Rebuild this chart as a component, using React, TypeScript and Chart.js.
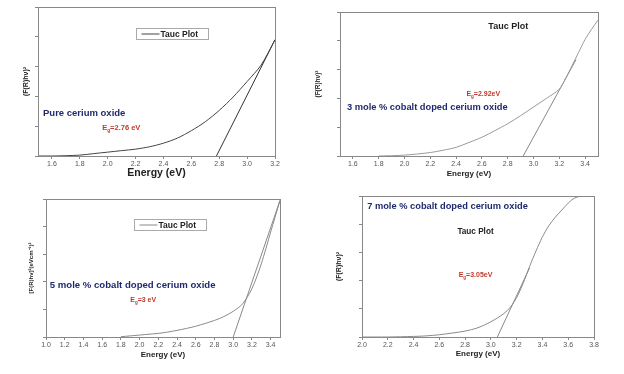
import { useEffect, useRef } from "react";
import { Chart, registerables } from "chart.js";
Chart.register(...registerables);

// ---------- data ----------
const pureX = [1.5, 1.6, 1.7, 1.8, 1.9, 2.0, 2.1, 2.2, 2.3, 2.4, 2.5, 2.6, 2.7, 2.8, 2.9, 3.0, 3.1, 3.2];
const pureY = [0.0, 0.0, 0.01, 0.03, 0.08, 0.13, 0.18, 0.23, 0.31, 0.43, 0.6, 0.85, 1.15, 1.53, 1.98, 2.5, 3.05, 3.9];
const pureTanX = [2.78, 3.2];
const pureTanY = [0, 3.9];
const pureTicks = [1.6, 1.8, 2.0, 2.2, 2.4, 2.6, 2.8, 3.0, 3.2];

const co3X = [1.8, 1.9, 2.0, 2.1, 2.2, 2.3, 2.4, 2.5, 2.6, 2.7, 2.8, 2.9, 3.0, 3.1, 3.2, 3.25, 3.3, 3.35, 3.4, 3.45, 3.5];
const co3Y = [0.0, 0.01, 0.03, 0.07, 0.12, 0.2, 0.3, 0.47, 0.65, 0.88, 1.12, 1.4, 1.7, 2.0, 2.32, 2.7, 3.15, 3.6, 4.05, 4.4, 4.72];
const co3TanX = [2.92, 3.33];
const co3TanY = [0, 3.35];
const co3Ticks = [1.6, 1.8, 2.0, 2.2, 2.4, 2.6, 2.8, 3.0, 3.2, 3.4];

const co5X = [1.8, 1.9, 2.0, 2.1, 2.2, 2.3, 2.4, 2.5, 2.6, 2.7, 2.8, 2.9, 3.0, 3.1, 3.2, 3.3, 3.4, 3.5];
const co5Y = [0.01, 0.04, 0.07, 0.1, 0.13, 0.18, 0.24, 0.31, 0.39, 0.49, 0.6, 0.74, 0.93, 1.2, 1.75, 2.65, 3.8, 4.95];
const co5TanX = [3.0, 3.5];
const co5TanY = [0, 4.95];
const co5Ticks = [1.0, 1.2, 1.4, 1.6, 1.8, 2.0, 2.2, 2.4, 2.6, 2.8, 3.0, 3.2, 3.4];

const co7X = [2.0, 2.2, 2.4, 2.5, 2.6, 2.7, 2.8, 2.9, 3.0, 3.1, 3.15, 3.2, 3.25, 3.3, 3.35, 3.4, 3.45, 3.5, 3.55, 3.6, 3.65, 3.7];
const co7Y = [0.0, 0.0, 0.02, 0.04, 0.08, 0.14, 0.21, 0.33, 0.54, 0.83, 1.05, 1.4, 1.9, 2.5, 3.05, 3.55, 3.95, 4.25, 4.5, 4.75, 4.93, 5.0];
const co7TanX = [3.05, 3.3];
const co7TanY = [0, 2.45];
const co7Ticks = [2.0, 2.2, 2.4, 2.6, 2.8, 3.0, 3.2, 3.4, 3.6, 3.8];

const yTicks = [0, 1, 2, 3, 4, 5];

const yTitleCe = "(F(R)hν)²";
const yTitle5 = "[F(R)hν]²(eVcm⁻¹)²";
const xTitle = "Energy (eV)";

const NAVY = "#1f2a6e";
const RED = "#c0392b";
const FONT = "'Liberation Sans', Arial, sans-serif";

type Note = { x: number; y: number; text: string; color: string; size: number; eg?: boolean };

type Panel = {
  L: number; T: number; R: number; B: number; W: number; H: number;
  xMin: number; xMax: number; xTicks: number[];
  cx: number[]; cy: number[]; tx: number[]; ty: number[];
  curveColor: string; tanColor: string;
  yTitle: string; yTitleSize: number; xTitleSize: number;
  notes: Note[];
  legend?: { x: number; y: number };
};

const panels: Panel[] = [
  {
    L: 38, T: 7, R: 275, B: 156, W: 16, H: 23, xMin: 1.5, xMax: 3.2, xTicks: pureTicks,
    cx: pureX, cy: pureY, tx: pureTanX, ty: pureTanY,
    curveColor: "#444", tanColor: "#333",
    yTitle: yTitleCe, yTitleSize: 7, xTitleSize: 10.5,
    notes: [
      { x: 1.536, y: 1.44, text: "Pure cerium oxide", color: NAVY, size: 9.5 },
      { x: 1.96, y: 0.94, text: "=2.76 eV", color: RED, size: 7.5, eg: true },
    ],
    legend: { x: 2.2, y: 4.3 },
  },
  {
    L: 340, T: 12, R: 598, B: 156, W: 26, H: 23, xMin: 1.5, xMax: 3.5, xTicks: co3Ticks,
    cx: co3X, cy: co3Y, tx: co3TanX, ty: co3TanY,
    curveColor: "#9a9a9a", tanColor: "#888",
    yTitle: yTitleCe, yTitleSize: 6.5, xTitleSize: 8,
    notes: [
      { x: 2.65, y: 4.51, text: "Tauc Plot", color: "#222", size: 9 },
      { x: 1.554, y: 1.67, text: "3 mole % cobalt doped cerium oxide", color: NAVY, size: 9.3 },
      { x: 2.48, y: 2.15, text: "=2.92eV", color: RED, size: 7, eg: true },
    ],
  },
  {
    L: 46, T: 199, R: 280, B: 337, W: 18, H: 23, xMin: 1.0, xMax: 3.5, xTicks: co5Ticks,
    cx: co5X, cy: co5Y, tx: co5TanX, ty: co5TanY,
    curveColor: "#8a8a8a", tanColor: "#888",
    yTitle: yTitle5, yTitleSize: 6, xTitleSize: 8,
    notes: [
      { x: 1.04, y: 1.88, text: "5 mole % cobalt doped cerium oxide", color: NAVY, size: 9.6 },
      { x: 1.9, y: 1.34, text: "=3 eV", color: RED, size: 7, eg: true },
    ],
    legend: { x: 1.945, y: 4.28 },
  },
  {
    L: 362, T: 196, R: 594, B: 337, W: 27, H: 22, xMin: 2.0, xMax: 3.8, xTicks: co7Ticks,
    cx: co7X, cy: co7Y, tx: co7TanX, ty: co7TanY,
    curveColor: "#8a8a8a", tanColor: "#888",
    yTitle: yTitleCe, yTitleSize: 7, xTitleSize: 8,
    notes: [
      { x: 2.04, y: 4.64, text: "7 mole % cobalt doped cerium oxide", color: NAVY, size: 9.3 },
      { x: 2.74, y: 3.75, text: "Tauc Plot", color: "#222", size: 8.2 },
      { x: 2.75, y: 2.18, text: "=3.05eV", color: RED, size: 7, eg: true },
    ],
  },
];

const PAD_TOP = 4;
const PAD_RIGHT = 12;

function ChartPanel({ p }: { p: Panel }) {
  const ref = useRef<HTMLCanvasElement | null>(null);
  const width = p.R - p.L + p.W + PAD_RIGHT;
  const height = PAD_TOP + p.B - p.T + p.H;

  useEffect(() => {
    if (!ref.current) return;
    const decor = {
      id: "decor",
      afterDraw(chart: any) {
        const ctx = chart.ctx as CanvasRenderingContext2D;
        const a = chart.chartArea;
        const xs = chart.scales.x;
        const ys = chart.scales.y;
        ctx.save();
        ctx.strokeStyle = "#888";
        ctx.lineWidth = 1;
        ctx.strokeRect(Math.round(a.left) + 0.5, Math.round(a.top) + 0.5, Math.round(a.right - a.left), Math.round(a.bottom - a.top));
        ctx.textBaseline = "middle";
        ctx.textAlign = "left";
        for (const n of p.notes) {
          const px = xs.getPixelForValue(n.x);
          const py = ys.getPixelForValue(n.y);
          ctx.fillStyle = n.color;
          if (n.eg) {
            ctx.font = `bold ${n.size}px ${FONT}`;
            ctx.fillText("E", px, py);
            const w1 = ctx.measureText("E").width;
            ctx.font = `bold ${n.size * 0.65}px ${FONT}`;
            ctx.fillText("g", px + w1, py + n.size * 0.35);
            const w2 = ctx.measureText("g").width;
            ctx.font = `bold ${n.size}px ${FONT}`;
            ctx.fillText(n.text, px + w1 + w2, py);
          } else {
            ctx.font = `bold ${n.size}px ${FONT}`;
            ctx.fillText(n.text, px, py);
          }
        }
        if (p.legend) {
          const lx = Math.round(xs.getPixelForValue(p.legend.x)) + 0.5;
          const ly = Math.round(ys.getPixelForValue(p.legend.y)) + 0.5;
          ctx.strokeStyle = "#aaa";
          ctx.strokeRect(lx, ly, 72, 11);
          ctx.strokeStyle = p.curveColor;
          ctx.beginPath();
          ctx.moveTo(lx + 5, ly + 5.5);
          ctx.lineTo(lx + 23, ly + 5.5);
          ctx.stroke();
          ctx.fillStyle = "#222";
          ctx.font = `bold 8.5px ${FONT}`;
          ctx.fillText("Tauc Plot", lx + 24, ly + 6);
        }
        ctx.restore();
      },
    };

    const chart = new Chart(ref.current, {
      type: "line",
      data: {
        datasets: [
          {
            data: p.cx.map((x, i) => ({ x, y: p.cy[i] })),
            borderColor: p.curveColor,
            borderWidth: 1,
            pointRadius: 0,
            tension: 0.3,
            fill: false,
          },
          {
            data: p.tx.map((x, i) => ({ x, y: p.ty[i] })),
            borderColor: p.tanColor,
            borderWidth: 1,
            pointRadius: 0,
            tension: 0,
            fill: false,
          },
        ],
      },
      options: {
        responsive: false,
        animation: false,
        devicePixelRatio: 1,
        layout: { padding: { top: PAD_TOP, right: PAD_RIGHT, left: 0, bottom: 0 } },
        plugins: { legend: { display: false }, tooltip: { enabled: false }, title: { display: false } },
        scales: {
          x: {
            type: "linear",
            min: p.xMin,
            max: p.xMax,
            afterBuildTicks: (s: any) => { s.ticks = p.xTicks.map((v) => ({ value: v })); },
            afterFit: (s: any) => { s.height = p.H; },
            ticks: {
              padding: 1,
              maxRotation: 0,
              autoSkip: false,
              color: "#555",
              font: { family: FONT, size: 7 },
              callback: (v: any) => Number(v).toFixed(1),
            },
            grid: { drawOnChartArea: false, drawTicks: true, tickLength: 3, color: "#888" },
            border: { display: true, color: "#888" },
            title: {
              display: true,
              text: xTitle,
              color: "#222",
              padding: 0,
              font: { family: FONT, size: p.xTitleSize, weight: "bold" },
            },
          },
          y: {
            type: "linear",
            min: 0,
            max: 5,
            afterBuildTicks: (s: any) => { s.ticks = yTicks.map((v) => ({ value: v })); },
            afterFit: (s: any) => { s.width = p.W; },
            ticks: { display: false },
            grid: { drawOnChartArea: false, drawTicks: true, tickLength: 3, color: "#888" },
            border: { display: true, color: "#888" },
            title: {
              display: true,
              text: p.yTitle,
              color: "#222",
              padding: 0,
              font: { family: FONT, size: p.yTitleSize, weight: "bold" },
            },
          },
        },
      },
      plugins: [decor],
    } as any);
    return () => chart.destroy();
  }, [p]);

  return (
    <canvas
      ref={ref}
      width={width}
      height={height}
      style={{ position: "absolute", left: p.L - p.W, top: p.T - PAD_TOP, width, height }}
    />
  );
}

export default function App() {
  return (
    <div style={{ position: "fixed", left: 0, top: 0, width: 624, height: 374, background: "#fff", overflow: "hidden" }}>
      {panels.map((p, i) => (
        <ChartPanel key={i} p={p} />
      ))}
    </div>
  );
}
